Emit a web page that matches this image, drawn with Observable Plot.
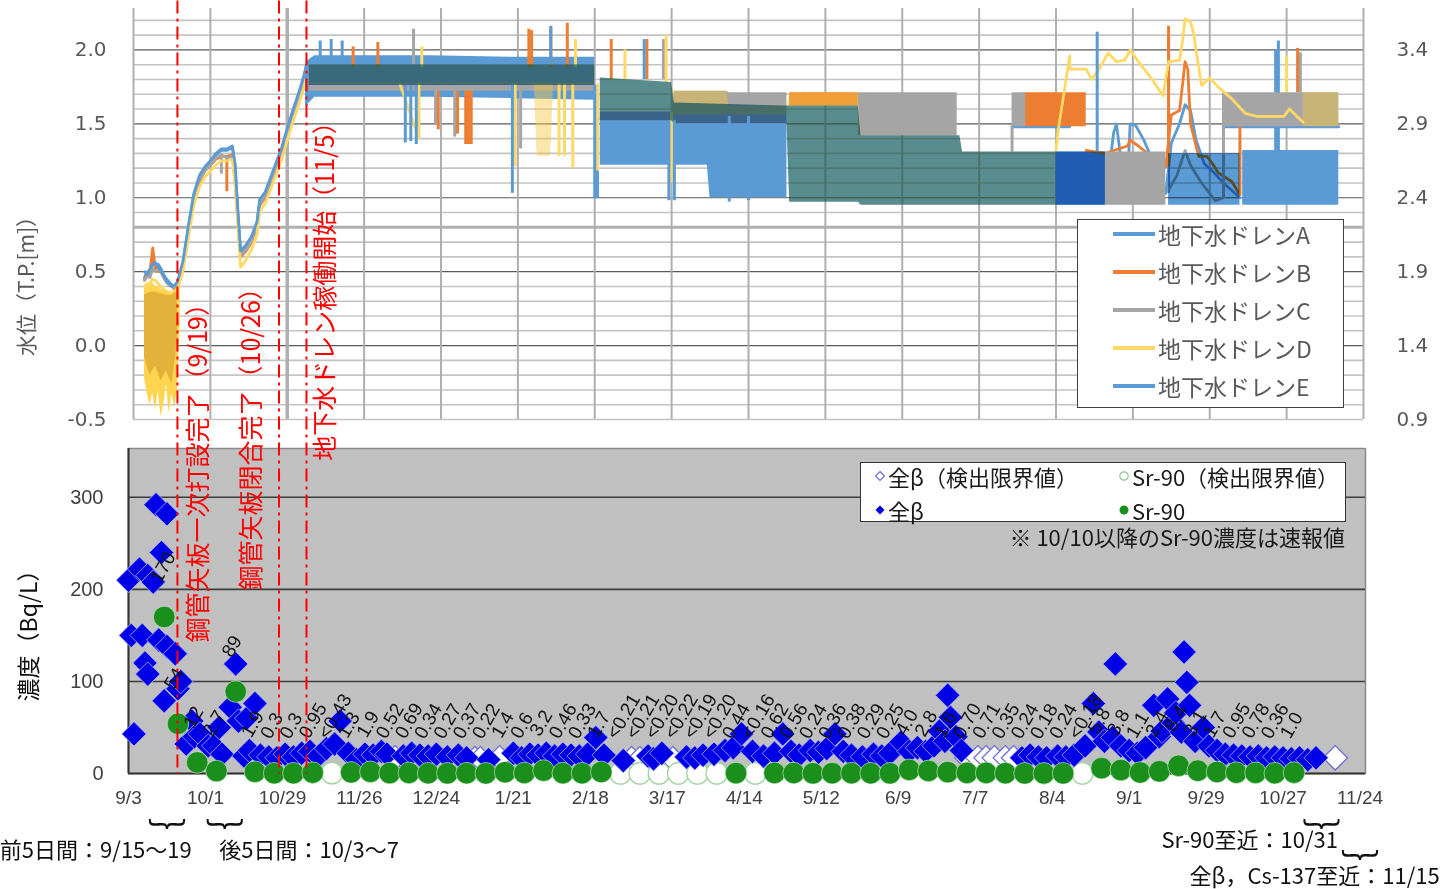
<!DOCTYPE html>
<html lang="ja">
<head>
<meta charset="utf-8">
<script src="https://cdn.jsdelivr.net/npm/d3@7"></script>
<script src="https://cdn.jsdelivr.net/npm/@observablehq/plot@0.6"></script>
<style>
html,body{margin:0;padding:0;background:#fff;}
#wrap{position:relative;width:1442px;height:889px;overflow:hidden;background:#fff;}
#wrap > svg{position:absolute;left:0;top:0;}
.ov{position:absolute;white-space:nowrap;}
</style>
</head>
<body>
<div id="wrap"></div>
<script>
// ================= shared x ticks =================
const xTickDates = ["2015-09-03","2015-10-01","2015-10-29","2015-11-26","2015-12-24","2016-01-21","2016-02-18","2016-03-17","2016-04-14","2016-05-12","2016-06-09","2016-07-07","2016-08-04","2016-09-01","2016-09-29","2016-10-27","2016-11-24"];
const xTickLabels = ["9/3","10/1","10/29","11/26","12/24","1/21","2/18","3/17","4/14","5/12","6/9","7/7","8/4","9/1","9/29","10/27","11/24"];

// ================= top panel: groundwater level =================
const drains = ["A","B","C","D","E"];
const drainNames = ["地下水ドレンA","地下水ドレンB","地下水ドレンC","地下水ドレンD","地下水ドレンE"];
const drainColors = ["#5B9BD5","#ED7D31","#A5A5A5","#FFD966","#5B9BD5"];

const levelMajor = [-0.5,0,0.5,1,1.5,2];
const levelMinor = [-0.4,-0.3,-0.2,-0.1,0.1,0.2,0.3,0.4,0.6,0.7,0.8,0.9,1.1,1.2,1.3,1.4,1.6,1.7,1.8,1.9,2.1,2.2];
const rightAxisOffset = 1.4;
const heavyGridLevels = [0.8];
const heavyGridDates = ["2015-10-29"];

const preDates = ["2015-09-07","2015-09-08","2015-09-09","2015-09-10","2015-09-11","2015-09-12","2015-09-13","2015-09-14","2015-09-15","2015-09-16","2015-09-17","2015-09-18","2015-09-19"];
const preA = [0.46,0.50,0.48,0.58,0.52,0.55,0.52,0.48,0.45,0.43,0.41,0.40,0.42];
const preB = [0.45,0.48,0.50,0.66,0.52,0.50,0.50,0.46,0.43,0.41,0.40,0.38,0.40];
const preC = [0.44,0.47,0.46,0.52,0.50,0.52,0.50,0.46,0.43,0.41,0.40,0.39,0.41];
const preD = [0.40,0.42,0.42,0.45,0.44,0.42,0.40,0.38,0.37,0.36,0.36,0.37,0.38];
const preE = [0.50,0.48,0.52,0.55,0.56,0.53,0.51,0.47,0.44,0.42,0.40,0.41,0.43];

const riseDates = ["2015-09-21","2015-09-23","2015-09-25","2015-09-27","2015-09-29","2015-10-01","2015-10-03","2015-10-05","2015-10-07","2015-10-09","2015-10-10","2015-10-11","2015-10-12","2015-10-14","2015-10-16","2015-10-18","2015-10-19","2015-10-21","2015-10-23","2015-10-25","2015-10-27","2015-10-29","2015-10-31","2015-11-02","2015-11-04","2015-11-05"];
const riseA = [0.56,0.80,1.02,1.14,1.20,1.24,1.29,1.32,1.32,1.34,1.22,0.90,0.63,0.67,0.73,0.83,0.98,1.03,1.13,1.23,1.33,1.46,1.58,1.69,1.81,1.90];
const riseB = [0.53,0.77,0.99,1.11,1.18,1.22,1.26,1.28,1.28,1.29,1.10,0.85,0.60,0.64,0.70,0.80,0.95,1.00,1.10,1.20,1.30,1.43,1.55,1.66,1.78,1.85];
const riseC = [0.54,0.78,1.00,1.12,1.18,1.22,1.27,1.29,1.27,1.28,1.15,0.87,0.61,0.65,0.71,0.81,0.96,1.01,1.11,1.21,1.31,1.44,1.56,1.67,1.79,1.86];
const riseD = [0.50,0.73,0.95,1.07,1.14,1.18,1.22,1.25,1.25,1.26,1.10,0.80,0.53,0.58,0.65,0.75,0.91,0.96,1.06,1.16,1.26,1.39,1.51,1.62,1.74,1.82];
const riseE = [0.57,0.81,1.03,1.15,1.21,1.25,1.30,1.33,1.33,1.35,1.23,0.92,0.64,0.68,0.74,0.84,0.99,1.04,1.14,1.24,1.34,1.47,1.59,1.70,1.82,1.90];

// fluctuation envelopes [date, low, high], one array per continuous stretch
const bandA = [
  [["2015-11-05",1.62,1.92],["2015-11-08",1.68,1.96],["2015-12-20",1.68,1.96],["2016-01-20",1.67,1.95],["2016-02-18",1.66,1.95]],
  [["2016-02-20",1.22,1.53],["2016-03-30",1.22,1.52],["2016-03-31",1.00,1.52],["2016-04-28",1.00,1.52]],
  [["2016-08-04",0.95,1.31],["2016-08-22",0.95,1.31]],
  [["2016-10-11",0.95,1.32],["2016-11-15",0.95,1.32]]
];
const bandB = [
  [["2016-04-29",1.62,1.71],["2016-05-24",1.62,1.71]],
  [["2016-07-23",1.48,1.71],["2016-08-15",1.48,1.71]]
];
const bandC = [
  [["2015-11-06",1.72,1.78],["2016-02-18",1.72,1.78]],
  [["2016-02-20",1.52,1.58],["2016-03-17",1.52,1.58],["2016-03-18",1.50,1.72],["2016-04-06",1.50,1.72],["2016-04-07",1.50,1.71],["2016-04-28",1.50,1.71]],
  [["2016-05-24",1.42,1.71],["2016-06-29",1.42,1.71]],
  [["2016-07-19",1.48,1.71],["2016-07-24",1.48,1.71]],
  [["2016-08-22",0.95,1.31],["2016-09-13",0.95,1.31]],
  [["2016-10-04",1.48,1.71],["2016-11-15",1.48,1.71]]
];
// drain D before the wall closure: full swing, and its dense core
const bandDpre = [
  [["2015-09-07",-0.22,0.40],["2015-09-08",-0.33,0.40],["2015-09-09",-0.40,0.42],["2015-09-10",-0.32,0.42],["2015-09-11",-0.44,0.40],["2015-09-12",-0.30,0.40],["2015-09-13",-0.48,0.38],["2015-09-14",-0.40,0.38],["2015-09-15",-0.26,0.36],["2015-09-16",-0.46,0.36],["2015-09-17",-0.33,0.36],["2015-09-18",-0.42,0.37],["2015-09-19",-0.30,0.40],["2015-09-20",0.15,0.45]]
];
const bandDcore = [
  [["2015-09-07",-0.08,0.34],["2015-09-09",-0.20,0.36],["2015-09-11",-0.14,0.36],["2015-09-13",-0.24,0.35],["2015-09-15",-0.17,0.34],["2015-09-17",-0.26,0.34],["2015-09-19",0.02,0.38]]
];
const bandD = [
  [["2015-11-06",1.77,1.90],["2016-01-27",1.77,1.90],["2016-01-28",1.28,1.90],["2016-02-02",1.28,1.90],["2016-02-03",1.77,1.90],["2016-02-18",1.77,1.90]],
  [["2016-02-20",1.58,1.81],["2016-03-17",1.58,1.78],["2016-03-18",1.56,1.72],["2016-04-06",1.56,1.72],["2016-04-07",1.56,1.62],["2016-04-28",1.56,1.62],["2016-04-29",0.97,1.71],["2016-05-24",0.97,1.71],["2016-05-25",0.95,1.42],["2016-06-30",0.95,1.42],["2016-07-01",0.95,1.31],["2016-08-04",0.95,1.31]],
  [["2016-11-02",1.48,1.71],["2016-11-15",1.48,1.71]]
];
const bandE = [
  [["2015-11-06",1.76,1.90],["2016-02-18",1.76,1.90]],
  [["2016-02-20",1.52,1.81],["2016-03-17",1.52,1.78],["2016-03-18",1.50,1.64],["2016-04-28",1.50,1.62],["2016-04-29",0.97,1.62],["2016-05-24",0.97,1.62],["2016-05-25",0.95,1.42],["2016-06-30",0.95,1.42],["2016-07-01",0.95,1.31],["2016-08-22",0.95,1.31]],
  [["2016-09-14",0.95,1.30],["2016-10-10",0.95,1.30]]
];

// slower curves after drain start [date, level]
const curveA = [
  [["2016-07-19",1.48],["2016-08-09",1.48]],
  [["2016-08-22",0.99],["2016-08-25",1.44],["2016-08-26",1.50],["2016-08-28",1.21],["2016-08-30",1.08],["2016-08-31",1.50],["2016-09-02",1.49],["2016-09-05",1.39],["2016-09-08",1.26],["2016-09-11",1.08],["2016-09-13",1.03],["2016-09-15",1.37],["2016-09-18",1.50],["2016-09-20",1.63],["2016-09-22",1.59],["2016-09-24",1.39],["2016-09-27",1.23],["2016-09-30",1.18],["2016-10-04",1.10],["2016-10-10",1.00]],
  [["2016-10-04",1.48],["2016-11-15",1.48]]
];
const curveB = [
  [["2016-08-15",1.32],["2016-08-22",1.30],["2016-08-30",1.35],["2016-08-31",1.39],["2016-09-03",1.35],["2016-09-07",1.29],["2016-09-11",1.28],["2016-09-13",1.21],["2016-09-15",1.56],["2016-09-18",1.59],["2016-09-19",1.75],["2016-09-20",1.92],["2016-09-21",1.87],["2016-09-22",1.50],["2016-09-25",1.28],["2016-09-28",1.28],["2016-09-30",1.23],["2016-10-02",1.17],["2016-10-07",1.11],["2016-10-10",1.02]]
];
const curveC = [
  [["2016-09-14",1.05],["2016-09-17",1.15],["2016-09-20",1.32],["2016-09-22",1.22],["2016-09-26",1.10],["2016-10-01",0.98],["2016-10-04",1.00]]
];
const curveD = [
  [["2015-12-09",1.77],["2015-12-16",1.40],["2015-12-16",1.77]],
  [["2016-08-04",1.32],["2016-08-05",1.48],["2016-08-09",1.96],["2016-08-09",1.87],["2016-08-15",1.87],["2016-08-17",1.80],["2016-08-20",1.88],["2016-08-23",1.98],["2016-08-26",1.92],["2016-08-29",1.93],["2016-08-31",2.00],["2016-09-03",1.92],["2016-09-08",1.80],["2016-09-12",1.69],["2016-09-14",1.92],["2016-09-18",1.93],["2016-09-19",2.05],["2016-09-20",2.21],["2016-09-22",2.19],["2016-09-23",2.12],["2016-09-26",1.76],["2016-09-29",1.81],["2016-10-02",1.75],["2016-10-07",1.67],["2016-10-12",1.57],["2016-10-16",1.55],["2016-10-26",1.55],["2016-10-28",1.60],["2016-11-02",1.51]]
];
const curveE = [];

// short excursions [drain, date, from, to]
const spikes = [
  ["B","2015-09-14",0.30,-0.24],["B","2015-09-16",0.30,-0.27],
  ["B","2015-10-07",1.27,1.04],["C","2015-10-05",1.29,1.16],
  ["E","2015-11-05",1.85,1.62],["A","2015-11-10",1.92,2.06],["E","2015-11-14",1.90,2.07],["A","2015-11-18",1.92,2.06],
  ["B","2015-11-22",1.88,2.02],["B","2015-12-01",1.88,2.05],
  ["E","2015-12-11",1.76,1.37],["E","2015-12-13",1.76,1.38],["E","2015-12-15",1.76,1.36],
  ["C","2015-12-14",1.90,2.14],["D","2015-12-17",1.88,2.02],
  ["C","2015-12-22",1.74,1.49],["B","2015-12-23",1.76,1.46],["C","2015-12-29",1.74,1.41],["B","2015-12-30",1.76,1.43],
  ["B","2016-01-02",1.76,1.36],["B","2016-01-03",1.76,1.36],["B","2016-01-04",1.76,1.36],
  ["E","2016-01-19",1.76,1.03],["D","2016-01-20",1.77,1.21],["C","2016-01-22",1.74,1.33],
  ["B","2016-01-25",1.88,2.14],["B","2016-01-26",1.88,2.13],["E","2016-02-02",1.90,2.16],["B","2016-02-02",1.88,2.15],
  ["D","2016-02-05",1.77,1.28],["D","2016-02-07",1.77,1.28],["B","2016-02-08",1.88,2.18],["D","2016-02-10",1.77,1.20],["D","2016-02-11",1.88,2.07],
  ["E","2016-02-18",1.76,0.99],["A","2016-02-19",1.66,1.00],["D","2016-02-19",1.77,1.18],
  ["B","2016-02-24",1.80,2.07],["D","2016-02-29",1.80,2.00],["E","2016-03-07",1.80,2.07],["B","2016-03-08",1.80,2.07],
  ["C","2016-03-14",1.80,2.07],["D","2016-03-15",1.78,2.10],
  ["E","2016-03-16",1.52,0.98],["E","2016-03-18",1.52,0.98],["D","2016-03-17",1.58,1.10],
  ["E","2016-04-07",1.55,0.97],["E","2016-04-14",1.55,0.98],
  ["C","2016-07-19",1.48,1.31],["E","2016-08-19",1.31,2.12],
  ["A","2016-09-14",1.03,2.09],["B","2016-09-14",1.21,2.16],
  ["C","2016-10-04",1.71,1.00],["B","2016-10-10",1.02,1.48],
  ["A","2016-10-23",1.30,2.00],["A","2016-10-24",1.30,2.06],["D","2016-10-27",1.71,1.96],
  ["B","2016-10-31",1.71,2.01],["C","2016-11-01",1.71,1.98]
];

// construction events
const eventDates = ["2015-09-19","2015-10-26","2015-11-05"];
const eventTexts = ["鋼管矢板一次打設完了（9/19）","鋼管矢板閉合完了（10/26）","地下水ドレン稼働開始（11/5）"];
const eventLabelDates = ["2015-09-27","2015-10-16","2015-11-12"];
const eventLabelLevels = [-0.82,-0.59,0.41];
const eventLineTop = 2.33;
const eventLineBottom = -2.9;

// ================= bottom panel: concentration =================
const concTicks = [0,100,200,300];
const betaPoints = [
  ["2015-09-03",210],["2015-09-04",150],["2015-09-05",43],["2015-09-07",222],["2015-09-08",150],["2015-09-09",120],["2015-09-10",108],["2015-09-10",215],["2015-09-12",208],["2015-09-13",292],["2015-09-14",145],["2015-09-15",240],["2015-09-16",79],["2015-09-17",282],["2015-09-17",138],["2015-09-20",130],["2015-09-21",92],["2015-09-22",100],["2015-09-24",32],["2015-09-26",57],["2015-09-27",40],["2015-09-29",43],["2015-10-02",30],["2015-10-04",30],["2015-10-06",50],["2015-10-07",21],["2015-10-10",72],["2015-10-12",119],["2015-10-13",57],["2015-10-15",19],["2015-10-16",60],["2015-10-17",25],["2015-10-19",76],
  ["2015-10-21",20],["2015-10-24",18],["2015-10-27",17],["2015-10-30",21],["2015-11-02",18],["2015-11-05",22],["2015-11-08",24],["2015-11-11",19],["2015-11-14",27],["2015-11-17",32],["2015-11-19",57],["2015-11-22",22],["2015-11-25",15],["2015-11-28",21],["2015-12-01",20],["2015-12-04",24],["2015-12-06",21],["2015-12-12",19],["2015-12-15",22],["2015-12-18",20],["2015-12-21",19],["2015-12-24",21],["2015-12-28",18],["2016-01-01",20],["2016-01-04",17],["2016-01-12",15],["2016-01-21",22],["2016-01-24",17],["2016-01-27",21],["2016-01-30",20],["2016-02-02",22],["2016-02-05",19],["2016-02-08",21],["2016-02-11",20],["2016-02-14",19],["2016-02-17",21],["2016-02-20",39],["2016-02-23",20],["2016-03-01",14],["2016-03-10",19],["2016-03-12",16],["2016-03-15",22],["2016-03-24",18],["2016-03-27",17],["2016-03-30",20],["2016-04-03",21],["2016-04-07",25],["2016-04-10",28],["2016-04-13",43],["2016-04-17",24],["2016-04-21",19],["2016-04-25",22],["2016-04-28",43],["2016-05-01",24],["2016-05-04",20],["2016-05-08",25],["2016-05-11",23],["2016-05-14",27],["2016-05-17",43],["2016-05-20",24],["2016-05-23",20],["2016-05-27",18],["2016-05-31",21],["2016-06-03",19],["2016-06-06",22],["2016-06-10",34],["2016-06-13",24],["2016-06-16",28],["2016-06-19",24],["2016-06-22",30],["2016-06-24",46],["2016-06-26",35],["2016-06-27",85],["2016-06-28",61],["2016-06-30",40],["2016-07-02",25],["2016-07-24",17],["2016-07-27",20],["2016-07-30",18],["2016-08-02",17],["2016-08-06",19],["2016-08-09",18],["2016-08-12",20],["2016-08-16",30],["2016-08-19",76],["2016-08-21",45],["2016-08-23",35],["2016-08-26",39],["2016-08-27",119],["2016-08-29",30],["2016-09-01",25],["2016-09-04",22],["2016-09-07",28],["2016-09-10",74],["2016-09-12",40],["2016-09-13",46],["2016-09-15",81],["2016-09-17",55],["2016-09-18",66],["2016-09-20",45],["2016-09-21",132],["2016-09-22",99],["2016-09-23",74],["2016-09-25",35],["2016-09-28",50],["2016-09-30",30],["2016-10-03",25],["2016-10-06",21],["2016-10-09",20],["2016-10-12",19],["2016-10-15",18],["2016-10-18",19],["2016-10-21",17],["2016-10-24",18],["2016-10-27",17],["2016-10-30",16],["2016-11-02",17],["2016-11-05",15],["2016-11-08",17]
];
const betaLimitPoints = [["2015-12-09",17],["2016-01-07",16],["2016-01-09",16],["2016-01-16",17],["2016-03-04",16],["2016-03-07",16],["2016-03-19",16],["2016-07-04",17],["2016-07-08",17],["2016-07-11",17],["2016-07-14",17],["2016-07-18",17],["2016-07-21",17],["2016-11-15",17]];
const srSamples = [
  ["2015-09-16","170"],["2015-09-21","54"],["2015-09-28","12"],["2015-10-05","2.7"],["2015-10-12","89"],
  ["2015-10-19","1.9"],["2015-10-26","0.3"],["2015-11-02","0.3"],["2015-11-09","0.95"],["2015-11-16","<0.43"],["2015-11-23","1.3"],["2015-11-30","1.9"],["2015-12-07","0.52"],["2015-12-14","0.69"],["2015-12-21","0.34"],["2015-12-28","0.27"],["2016-01-04","0.37"],["2016-01-11","0.22"],["2016-01-18","1.4"],["2016-01-25","0.6"],["2016-02-01","3.2"],["2016-02-08","0.46"],["2016-02-15","0.33"],["2016-02-22","1.7"],["2016-02-29","<0.21"],["2016-03-07","<0.21"],["2016-03-14","<0.20"],["2016-03-21","<0.22"],["2016-03-28","<0.19"],["2016-04-04","<0.20"],["2016-04-11","0.44"],["2016-04-18","<0.16"],["2016-04-25","0.62"],["2016-05-02","0.56"],["2016-05-09","0.24"],["2016-05-16","0.36"],["2016-05-23","0.38"],["2016-05-30","0.29"],["2016-06-06","0.25"],["2016-06-13","4.0"],["2016-06-20","2.8"],["2016-06-27","1.6"],["2016-07-04","0.70"],["2016-07-11","0.71"],["2016-07-18","0.35"],["2016-07-25","0.24"],["2016-08-01","0.18"],["2016-08-08","0.24"],["2016-08-15","<0.18"],["2016-08-22","5.8"],["2016-08-29","3.8"],["2016-09-05","1.1"],["2016-09-12","2.4"],["2016-09-19","8.4"],["2016-09-26","3.1"],["2016-10-03","1.7"],["2016-10-10","0.95"],["2016-10-17","0.78"],["2016-10-24","0.36"],["2016-10-31","1.0"]
];
const legendLabels = ["全β（検出限界値）","Sr-90（検出限界値）","全β","Sr-90"];
const footnote = "※ 10/10以降のSr-90濃度は速報値";
const noteTexts = ["前5日間：9/15～19","後5日間：10/3～7","Sr-90至近：10/31","全β，Cs-137至近：11/15"];
const noteDates = ["2015-09-26","2015-10-06","2016-11-16","2016-12-23"];
const noteLevels = [-83.6,-83.6,-72.8,-111.9];
const braceDates = ["2015-09-17","2015-10-08","2016-11-10","2016-11-24"];
const braceLevels = [-53,-53,-53,-86];

// ================= build =================
const D = s => new Date(s);
const labelOf = new Map(xTickDates.map((d,i)=>[+D(d), xTickLabels[i]]));
const CJK = "'Noto Sans CJK JP', 'Noto Sans', sans-serif";

const preVals = {A:preA,B:preB,C:preC,D:preD,E:preE};
const riseVals = {A:riseA,B:riseB,C:riseC,D:riseD,E:riseE};
const bandSets = {A:bandA,B:bandB,C:bandC,D:bandD,E:bandE};
const curveSets = {A:curveA,B:curveB,C:curveC,D:curveD,E:curveE};
const bandFill = {A:"#5B9BD5",B:"#ED7D31",C:"#A5A5A5",D:"#F5C842",E:"#5B9BD5"};
const bandOpacity = {A:1,B:1,C:1,D:0.45,E:1};

function segRows(segs) {
  const rows = [];
  segs.forEach((seg, si) => seg.forEach(p => rows.push({date:D(p[0]), lo:p[1], hi:p[2], seg:si})));
  return rows;
}

const topMarks = [
  Plot.ruleY(levelMinor, {stroke:"#C4C4C4", strokeWidth:1.6}),
  Plot.ruleY([levelMajor[0]], {stroke:"#C4C4C4", strokeWidth:1.6}),
  Plot.ruleY(heavyGridLevels, {stroke:"#B0B0B0", strokeWidth:3}),
  Plot.ruleY(levelMajor.slice(1), {stroke:"#5A5A5A", strokeWidth:1.2}),
  Plot.ruleX(xTickDates.map(D), {stroke:"#AFAFAF", strokeWidth:2}),
  Plot.ruleX(heavyGridDates.map(D), {stroke:"#AFAFAF", strokeWidth:3.5})
];

drains.forEach((k, idx) => {
  const color = drainColors[idx];
  if (k === "D") {
    topMarks.push(Plot.areaY(segRows(bandDpre), {x:"date", y1:"lo", y2:"hi", z:"seg", fill:"#FFD54F"}));
    topMarks.push(Plot.areaY(segRows(bandDcore), {x:"date", y1:"lo", y2:"hi", z:"seg", fill:"#E2B23A"}));
  }
  topMarks.push(Plot.areaY(segRows(bandSets[k]), {x:"date", y1:"lo", y2:"hi", z:"seg", fill:bandFill[k],
    fillOpacity: bandOpacity[k], mixBlendMode: k === "E" ? "multiply" : "normal"}));
  const lineRows = [];
  preDates.forEach((d,i) => lineRows.push({date:D(d), v:preVals[k][i], seg:-1}));
  riseDates.forEach((d,i) => lineRows.push({date:D(d), v:riseVals[k][i], seg:-1}));
  curveSets[k].forEach((seg, si) => seg.forEach(p => lineRows.push({date:D(p[0]), v:p[1], seg:si})));
  topMarks.push(Plot.line(lineRows, {x:"date", y:"v", z:"seg", stroke:color, strokeWidth:2.8, strokeLinejoin:"round"}));
  const sp = spikes.filter(s => s[0] === k).map(s => ({date:D(s[1]), a:s[2], b:s[3]}));
  topMarks.push(Plot.ruleX(sp, {x:"date", y1:"a", y2:"b", stroke:color, strokeWidth:3}));
});

topMarks.push(
  Plot.axisY(levelMajor, {anchor:"left", tickSize:0, tickPadding:27, tickFormat:d=>d.toFixed(1), fontSize:20, fontFamily:"DejaVu Sans", color:"#595959", label:null}),
  Plot.axisY(levelMajor, {anchor:"right", tickSize:0, tickPadding:33, tickFormat:d=>(d+rightAxisOffset).toFixed(1), fontSize:20, fontFamily:"DejaVu Sans", color:"#595959", label:null}),
  Plot.ruleX(eventDates.map(D), {x:d=>d, y1:eventLineTop, y2:eventLineBottom, stroke:"#FF0000", strokeWidth:2, strokeDasharray:"13,5,3,5"}),
  Plot.text(eventTexts.map((t,i)=>({t, date:D(eventLabelDates[i]), v:eventLabelLevels[i]})),
    {x:"date", y:"v", text:"t", rotate:-90, fontSize:25, fontFamily:CJK, fill:"#FF0000"})
);

const topPlot = Plot.plot({
  width:1442, height:889,
  marginTop:8, marginBottom:470, marginLeft:133, marginRight:79,
  x:{type:"utc", domain:[D(xTickDates[0]), D(xTickDates[xTickDates.length-1])], axis:null},
  y:{domain:[-0.5, 2.28]},
  style:{background:"transparent", overflow:"visible"},
  marks: topMarks
});

// ---------- bottom ----------
const betaRows = betaPoints.map(([d,v])=>({date:D(d), v}));
const betaLimRows = betaLimitPoints.map(([d,v])=>({date:D(d), v}));
const srRows = srSamples.map(([d,l])=>({date:D(d), label:l, dl:l.startsWith("<"), v:parseFloat(l.replace("<",""))}));

const bottomMarks = [
  Plot.frame({fill:"#C0C0C0", stroke:"#8A8A8A", strokeWidth:1.5}),
  Plot.ruleY(concTicks.slice(1), {stroke:"#3C3C3C", strokeWidth:1.6}),
  Plot.ruleY([concTicks[0]], {stroke:"#333", strokeWidth:2}),
  Plot.ruleX([D(xTickDates[0])], {stroke:"#333", strokeWidth:2}),
  Plot.dot(betaLimRows, {x:"date", y:"v", symbol:"diamond2", r:11, fill:"#FFFFFF", stroke:"#6A6AD8", strokeWidth:1.3}),
  Plot.dot(srRows.filter(d=>d.dl), {x:"date", y:"v", r:10.8, fill:"#FFFFFF", stroke:"#A0D4A0", strokeWidth:1.3}),
  Plot.dot(betaRows, {x:"date", y:"v", symbol:"diamond2", r:11, fill:"#0000E6", stroke:"#B4B4FF", strokeWidth:0.8}),
  Plot.dot(srRows.filter(d=>!d.dl), {x:"date", y:"v", r:10.8, fill:"#1B8F1B", stroke:"#D8EED8", strokeWidth:0.6}),
  Plot.text(srRows, {x:"date", y:"v", text:"label", rotate:-60, textAnchor:"start", dx:-9, dy:-36, fontSize:19, fontFamily:"Liberation Sans", fill:"#141414"}),
  Plot.axisX(xTickDates.map(D), {tickSize:0, tickPadding:17, tickFormat:d=>labelOf.get(+d), fontSize:19, fontFamily:"Liberation Sans", color:"#404040", label:null}),
  Plot.axisY(concTicks, {tickSize:0, tickPadding:25, fontSize:20, fontFamily:"Liberation Sans", color:"#404040", label:null}),
  Plot.text(braceDates.map((d,i)=>({date:D(d), v:braceLevels[i]})), {x:"date", y:"v", text:()=>"︸", dy:17, fontSize:38, fontFamily:CJK, fill:"#111"})
];
noteTexts.forEach((t,i) => {
  bottomMarks.push(Plot.text([{t, date:D(noteDates[i]), v:noteLevels[i]}],
    {x:"date", y:"v", text:"t", textAnchor: i === 1 ? "start" : "end", fontSize:22, fontFamily:CJK, fill:"#111"}));
});

const bottomPlot = Plot.plot({
  width:1442, height:889,
  marginTop:448, marginBottom:116, marginLeft:128, marginRight:77,
  x:{type:"utc", domain:[D("2015-09-03"), D("2016-11-26")]},
  y:{domain:[0, 353]},
  style:{background:"transparent", overflow:"visible"},
  marks: bottomMarks
});

const wrap = document.getElementById("wrap");
wrap.appendChild(bottomPlot);
wrap.appendChild(topPlot);

function box(css, html) {
  const el = document.createElement("div");
  el.className = "ov";
  Object.assign(el.style, css);
  if (html !== undefined) el.innerHTML = html;
  return el;
}

// top legend
const tl = box({left:"1077px", top:"219px", width:"267px", height:"189px", border:"1px solid #404040", background:"#fff", boxSizing:"border-box"});
drains.forEach((k,i) => {
  const row = box({left:"35px", top:(0 + 38*i)+"px", height:"28px", display:"flex", alignItems:"center"});
  const sw = document.createElement("span");
  Object.assign(sw.style, {display:"inline-block", width:"42px", height:"3.5px", background:drainColors[i], marginRight:"3px"});
  const tx = document.createElement("span");
  tx.textContent = drainNames[i];
  Object.assign(tx.style, {font:"23px "+CJK, color:"#595959", lineHeight:"28px"});
  row.appendChild(sw); row.appendChild(tx); tl.appendChild(row);
});
wrap.appendChild(tl);

// bottom legend
const bl = box({left:"860px", top:"462px", width:"486px", height:"60px", border:"1px solid #333", background:"#fff", boxSizing:"border-box"});
const markerSvg = [
  '<svg width="12" height="12"><path d="M6 1.5L10.5 6L6 10.5L1.5 6Z" fill="#fff" stroke="#6A6AD8" stroke-width="1.2"/></svg>',
  '<svg width="12" height="12"><circle cx="6" cy="6" r="4.2" fill="#fff" stroke="#8CC88C" stroke-width="1.2"/></svg>',
  '<svg width="12" height="12"><path d="M6 1.5L10.5 6L6 10.5L1.5 6Z" fill="#0000E6"/></svg>',
  '<svg width="12" height="12"><circle cx="6" cy="6" r="4.5" fill="#1B8F1B"/></svg>'
];
legendLabels.forEach((t,i) => {
  const col = i % 2, r = Math.floor(i/2);
  const row = box({left:(col ? 257 : 13)+"px", top:(r ? 33 : -1)+"px", height:"28px", display:"flex", alignItems:"center"});
  row.innerHTML = markerSvg[i] + '<span style="font:22px '+CJK.replace(/'/g,'&quot;')+';color:#1a1a1a;margin-left:2px;line-height:28px">'+t+'</span>';
  bl.appendChild(row);
});
wrap.appendChild(bl);
wrap.appendChild(box({right:(1442-1345)+"px", top:"522px", font:"22px "+CJK, color:"#1a1a1a", lineHeight:"28px"}, footnote));

// axis titles
wrap.appendChild(box({left:"25px", top:"281px", transform:"translate(-50%,-50%) rotate(-90deg)", font:"21px "+CJK, color:"#595959"}, "水位（T.P.[m]）"));
wrap.appendChild(box({left:"27px", top:"630px", transform:"translate(-50%,-50%) rotate(-90deg)", font:"23px "+CJK, color:"#111"}, "濃度（Bq/L）"));
</script>
</body>
</html>
